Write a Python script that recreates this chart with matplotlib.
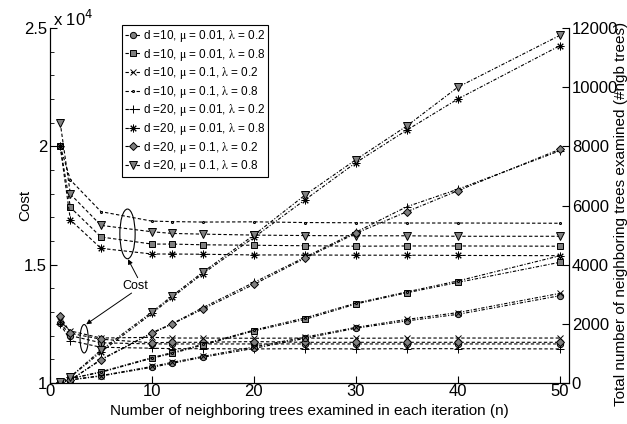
import numpy as np
import matplotlib.pyplot as plt
from matplotlib.patches import Ellipse

plt.rcParams['font.family'] = ['Liberation Sans', 'DejaVu Sans']
plt.rcParams['mathtext.fontset'] = 'stix'

# iterations (n) at which the runs were measured
n_vals = [1, 2, 5, 10, 12, 15, 20, 25, 30, 35, 40, 50]

labels = [
    r'd =10, $\mathrm{\mu}$ = 0.01, $\mathrm{\lambda}$ = 0.2',
    r'd =10, $\mathrm{\mu}$ = 0.01, $\mathrm{\lambda}$ = 0.8',
    r'd =10, $\mathrm{\mu}$ = 0.1, $\mathrm{\lambda}$ = 0.2',
    r'd =10, $\mathrm{\mu}$ = 0.1, $\mathrm{\lambda}$ = 0.8',
    r'd =20, $\mathrm{\mu}$ = 0.01, $\mathrm{\lambda}$ = 0.2',
    r'd =20, $\mathrm{\mu}$ = 0.01, $\mathrm{\lambda}$ = 0.8',
    r'd =20, $\mathrm{\mu}$ = 0.1, $\mathrm{\lambda}$ = 0.2',
    r'd =20, $\mathrm{\mu}$ = 0.1, $\mathrm{\lambda}$ = 0.8',
]
markers = ['o', 's', 'x', '.', '+', (8, 2, 0), 'D', 'v']

# cost (left axis)
cost_d10_a = [12550, 12000, 11700, 11650, 11650, 11650, 11650, 11650, 11650, 11650, 11650, 11650]
cost_d10_b = [20000, 17420, 16170, 15870, 15870, 15840, 15820, 15800, 15780, 15790, 15790, 15780]
cost_d10_c = [12600, 12200, 11900, 11930, 11900, 11900, 11890, 11900, 11890, 11900, 11900, 11900]
cost_d10_d = [20000, 18580, 17240, 16840, 16820, 16800, 16810, 16780, 16770, 16760, 16760, 16750]
cost_d20_a = [12500, 11790, 11510, 11470, 11450, 11450, 11440, 11450, 11440, 11450, 11450, 11440]
cost_d20_b = [20000, 16890, 15690, 15450, 15450, 15440, 15410, 15410, 15400, 15400, 15390, 15380]
cost_d20_c = [12840, 12100, 11850, 11700, 11720, 11720, 11750, 11720, 11720, 11720, 11720, 11720]
cost_d20_d = [21000, 17980, 16660, 16390, 16320, 16290, 16250, 16230, 16220, 16220, 16200, 16200]

# total number of neighboring trees examined (right axis)
ngb_d10_a = [0, 100, 235, 530, 665, 870, 1170, 1510, 1850, 2100, 2320, 2950]
ngb_d10_b = [0, 150, 360, 835, 1000, 1285, 1760, 2150, 2670, 3050, 3400, 4080]
ngb_d10_c = [0, 110, 250, 560, 700, 900, 1220, 1550, 1880, 2150, 2380, 3030]
ngb_d10_d = [0, 150, 380, 860, 1030, 1310, 1790, 2200, 2700, 3080, 3450, 4300]
ngb_d20_a = [0, 100, 800, 1700, 2010, 2550, 3400, 4250, 5100, 5960, 6550, 7850]
ngb_d20_b = [30, 200, 1050, 2350, 2900, 3700, 4920, 6190, 7450, 8550, 9600, 11400]
ngb_d20_c = [0, 100, 780, 1680, 1995, 2500, 3335, 4215, 5060, 5790, 6500, 7900]
ngb_d20_d = [30, 210, 1115, 2400, 2950, 3750, 5000, 6350, 7550, 8690, 10000, 11750]

costs = [cost_d10_a, cost_d10_b, cost_d10_c, cost_d10_d,
         cost_d20_a, cost_d20_b, cost_d20_c, cost_d20_d]
ngbs = [ngb_d10_a, ngb_d10_b, ngb_d10_c, ngb_d10_d,
        ngb_d20_a, ngb_d20_b, ngb_d20_c, ngb_d20_d]

msizes = [4.5, 4.3, 4.5, 3, 5.5, 5.5, 4.3, 5.8]

fig = plt.figure(figsize=(6.27, 4.24), dpi=100)
ax = fig.add_axes([50/627, 41/424, 519/627, 355/424])
ax2 = ax.twinx()

handles = []
for lab, mk, ms, c, g in zip(labels, markers, msizes, costs, ngbs):
    h, = ax.plot(n_vals, c, '--', color='k', lw=0.8, marker=mk, ms=ms,
                 mfc='#808080', mec='k', mew=0.7, dashes=(3, 2), label=lab)
    ax2.plot(n_vals, g, '-.', color='k', lw=0.8, marker=mk, ms=ms,
             mfc='#808080', mec='k', mew=0.7, dashes=(3, 1.5, 1, 1.5))
    handles.append(h)

ax.set_xlim(0, 50.9)
ax.set_ylim(10000, 25000)
ax2.set_ylim(0, 12000)

ax.set_xticks([0, 10, 20, 30, 40, 50])
ax.set_yticks([10000, 15000, 20000, 25000])
ax.set_yticklabels(['1', '1.5', '2', '2.5'])
ax.set_yticks(np.arange(10000, 25001, 1000), minor=True)
ax2.set_yticks(np.arange(0, 12001, 2000))

for a in (ax, ax2):
    a.spines['top'].set_visible(False)
    a.tick_params(direction='in', labelsize=12, length=5, width=0.8, pad=2)
    a.tick_params(which='minor', direction='in', length=3, width=0.6)
ax.tick_params(axis='x', pad=1)

ax.set_xlabel('Number of neighboring trees examined in each iteration (n)',
              fontsize=11, labelpad=3)
ax.set_ylabel('Cost', fontsize=11)
ax.yaxis.set_label_coords(-0.035, 0.5)
ax2.set_ylabel('Total number of neighboring trees examined (#ngb trees)',
               fontsize=11)
ax2.yaxis.set_label_coords(1.087, 0.475)
fig.text(53/627, 1 - 19/424, r'x 10$^{4}$', fontsize=12, va='center',
         family='Liberation Sans', math_fontfamily='dejavusans')

# cost annotations
ax.add_patch(Ellipse((7.6, 16300), 1.5, 2100, fill=False, ec='k', lw=0.8, zorder=5))
ax.add_patch(Ellipse((3.35, 11870), 0.8, 1200, fill=False, ec='k', lw=0.8, zorder=5))
ax.text(8.35, 14100, 'Cost', fontsize=9, ha='center', va='center')
ax.annotate('', xy=(7.65, 15230), xytext=(8.6, 14450),
            arrowprops=dict(arrowstyle='-|>', color='k', lw=0.7,
                            mutation_scale=7, shrinkA=0, shrinkB=0))
ax.annotate('', xy=(3.55, 12480), xytext=(8.0, 13800),
            arrowprops=dict(arrowstyle='-|>', color='k', lw=0.7,
                            mutation_scale=7, shrinkA=0, shrinkB=0))

leg = ax2.legend(handles, labels, loc='upper left',
                 bbox_to_anchor=(122/627, 1 - 25/424), bbox_transform=fig.transFigure,
                 borderaxespad=0, fontsize=8.5, handlelength=1.3, handletextpad=0.2,
                 labelspacing=0.22, borderpad=0.25, fancybox=False, framealpha=1)
leg.get_frame().set_edgecolor('k')
leg.get_frame().set_linewidth(0.8)

plt.savefig('out.png', dpi=100)
